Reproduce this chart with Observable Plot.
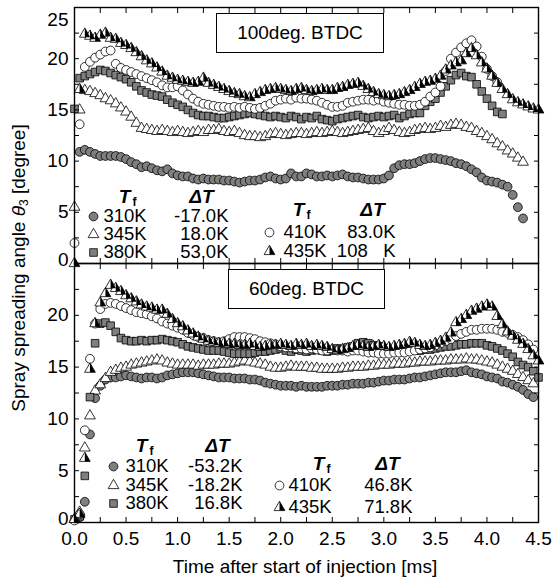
<!DOCTYPE html>
<html><head><meta charset="utf-8">
<script src="https://cdn.jsdelivr.net/npm/d3@7"></script>
<script src="https://cdn.jsdelivr.net/npm/@observablehq/plot@0.6"></script>
<style>
body{margin:0;background:#fff;}
#wrap{position:relative;width:552px;height:579px;font-family:"Liberation Sans",Arial,sans-serif;color:#000;}
#top,#bot{position:absolute;left:0;}
#top{top:0}
#bot{top:263px}
svg{overflow:visible}
.box{position:absolute;border:1.5px solid #000;background:#fff;box-sizing:border-box;display:flex;align-items:center;justify-content:center;font-size:19px;white-space:nowrap;}
.ytitle{position:absolute;left:19px;top:268px;transform:translate(-50%,-50%) rotate(-90deg);white-space:nowrap;font-size:19px;}
.xtitle{position:absolute;left:305px;top:567px;transform:translate(-50%,-50%);white-space:nowrap;font-size:19px;}
sub{font-size:12px;vertical-align:-3px;}
</style></head>
<body><div id="wrap"><div id="top"></div><div id="bot"></div></div>
<script>
// ---------- data ----------
const time = [0.00,0.05,0.10,0.15,0.20,0.25,0.30,0.35,0.40,0.45,
0.50,0.55,0.60,0.65,0.70,0.75,0.80,0.85,0.90,0.95,
1.00,1.05,1.10,1.15,1.20,1.25,1.30,1.35,1.40,1.45,
1.50,1.55,1.60,1.65,1.70,1.75,1.80,1.85,1.90,1.95,
2.00,2.05,2.10,2.15,2.20,2.25,2.30,2.35,2.40,2.45,
2.50,2.55,2.60,2.65,2.70,2.75,2.80,2.85,2.90,2.95,
3.00,3.05,3.10,3.15,3.20,3.25,3.30,3.35,3.40,3.45,
3.50,3.55,3.60,3.65,3.70,3.75,3.80,3.85,3.90,3.95,
4.00,4.05,4.10,4.15,4.20,4.25,4.30,4.35,4.40,4.45,
4.50];

const seriesNames = ["310K","345K","380K","410K","435K"];
const deltaTTop = ["-17.0K","18.0K","53.0K","83.0K","108\u00a0\u00a0\u00a0K"];
const deltaTBot = ["-53.2K","-18.2K","16.8K","46.8K","71.8K"];
const panelTitles = ["100deg. BTDC","60deg. BTDC"];

const top310 = [null,10.9,11.1,10.9,10.7,10.5,10.5,10.5,10.5,10.4,
10.2,9.9,9.7,9.4,9.5,9.3,9.1,9.0,9.2,8.8,
8.6,8.5,8.5,8.3,8.2,8.3,8.2,8.2,8.2,8.1,
8.1,8.0,7.9,8.0,8.1,8.1,8.2,8.4,8.5,8.3,
8.2,8.3,8.8,8.5,8.5,8.8,8.7,8.5,8.5,8.6,
8.5,8.6,8.7,8.5,8.4,8.4,8.3,8.2,8.2,8.2,
8.3,8.6,9.3,9.6,9.7,9.7,9.8,10.0,10.2,10.3,
10.3,10.2,10.1,10.0,9.8,9.7,9.5,9.2,8.9,8.4,
8.1,8.0,7.9,7.7,7.5,6.7,5.5,4.4,null,null,
null];
const top345 = [5.5,15.0,16.9,16.8,16.6,16.4,16.1,15.9,15.6,15.2,
14.8,14.3,13.7,13.2,13.1,13.0,12.9,13.0,12.9,12.8,
12.9,12.8,12.7,12.8,12.9,12.8,13.0,13.0,13.1,12.9,
12.8,12.9,12.7,12.5,12.4,12.4,12.3,12.4,12.6,12.7,
12.6,12.5,12.6,12.7,12.7,12.6,12.7,12.8,12.7,12.8,
12.9,12.8,12.7,12.8,12.9,13.0,13.1,13.2,12.9,12.7,
12.9,13.2,13.0,12.8,12.7,12.8,13.0,13.1,13.2,13.1,
13.2,13.4,13.3,13.5,13.6,13.5,13.3,13.2,12.9,12.7,
12.4,12.1,11.7,11.4,11.0,10.7,10.3,9.9,null,null,
null];
const top380 = [15.1,18.1,18.3,18.5,18.7,18.9,18.8,18.6,18.4,18.2,
18.0,17.7,17.3,16.9,16.7,16.5,16.4,16.3,16.0,15.7,
15.5,15.3,15.0,14.7,14.5,14.4,14.4,14.3,14.2,14.2,
14.3,14.4,14.5,14.6,14.7,14.6,14.5,14.4,14.3,14.4,
14.3,14.2,14.4,14.3,14.1,14.3,14.2,14.4,14.1,14.0,
13.9,14.1,14.2,14.3,14.4,14.5,14.3,14.2,14.3,14.4,
14.3,14.4,14.5,14.2,14.4,14.6,14.7,14.7,15.4,15.8,
16.1,16.7,17.3,17.9,18.4,18.6,18.3,18.2,17.5,16.8,
16.1,15.4,14.8,14.6,null,null,null,null,null,null,
null];
const top410 = [2.0,13.6,19.2,19.7,20.1,20.4,20.7,20.8,19.5,19.1,
18.9,18.7,18.5,18.3,18.1,17.9,17.7,17.4,17.2,17.2,
17.3,16.9,16.5,16.1,15.8,15.6,15.5,15.4,15.3,15.3,
15.2,15.3,15.2,15.3,15.2,15.1,15.2,15.4,15.6,15.9,
16.0,16.1,16.0,16.2,16.1,16.1,16.0,15.9,15.7,15.5,
15.3,15.3,15.4,15.7,15.8,15.9,16.0,16.0,15.9,16.0,
15.8,15.7,15.6,15.5,15.5,15.4,15.4,15.5,15.8,16.3,
16.7,17.3,18.8,20.0,20.6,21.1,21.5,21.8,21.2,20.2,
19.0,18.3,17.7,null,null,null,null,null,null,null,
null];
const top435 = [0.0,17.0,22.4,22.2,22.0,22.3,22.5,22.0,21.9,21.5,
21.3,21.0,20.6,20.2,19.8,19.5,19.1,18.7,18.3,18.1,
17.9,17.8,17.7,17.6,17.7,18.1,17.6,17.4,17.2,17.0,
16.8,16.6,16.5,16.3,16.2,16.5,16.7,16.9,17.0,17.1,
17.0,16.9,16.8,17.0,17.1,16.9,16.8,16.9,17.0,16.9,
16.9,17.1,17.2,17.4,17.5,17.6,17.3,17.0,16.7,16.5,
16.4,16.3,16.4,16.5,16.7,16.9,17.2,17.5,17.7,17.8,
18.0,18.3,18.9,19.3,19.6,19.8,20.5,21.0,20.3,19.6,
19.0,18.3,17.6,17.0,16.5,16.0,15.7,15.5,15.3,15.1,
15.0];

const bot310 = [null,0.5,2.0,8.5,12.0,13.2,13.8,14.0,14.0,14.1,
14.2,14.1,14.0,13.9,14.0,14.0,13.9,14.0,14.2,14.3,
14.4,14.5,14.5,14.5,14.4,14.3,14.2,14.1,14.0,14.0,
14.0,13.9,13.9,13.9,13.8,13.8,13.7,13.5,13.4,13.3,
13.2,13.2,13.2,13.1,13.2,13.1,13.1,13.1,13.1,13.2,
13.2,13.2,13.3,13.3,13.4,13.4,13.4,13.5,13.5,13.6,
13.7,13.7,13.8,13.8,13.8,13.9,14.0,14.0,14.1,14.2,
14.3,14.4,14.5,14.5,14.5,14.6,14.7,14.5,14.4,14.3,
14.1,14.0,13.9,13.6,13.5,13.3,13.1,12.8,12.4,12.1,
null];
const bot345 = [0.3,1.0,7.2,10.3,12.7,13.3,13.9,14.5,14.7,14.9,
15.0,15.2,15.3,15.4,15.5,15.6,15.7,15.6,15.4,15.3,
15.2,15.2,15.2,15.2,15.1,15.2,15.2,15.2,15.3,15.3,
15.3,15.4,15.5,15.6,15.5,15.4,15.3,15.2,15.0,14.9,
14.9,15.0,15.1,15.0,15.0,15.0,14.9,14.9,14.8,14.8,
14.8,14.8,14.9,14.9,15.0,15.0,15.0,15.1,15.1,15.2,
15.2,15.2,15.3,15.3,15.3,15.4,15.4,15.5,15.5,15.5,
15.6,15.6,15.6,15.7,15.7,15.7,15.8,15.7,15.7,15.6,
15.5,15.4,15.2,15.0,14.8,14.6,14.3,14.0,13.7,13.4,
null];
const bot380 = [0.3,0.6,4.5,12.1,17.3,19.2,19.3,19.0,18.4,17.8,
17.6,17.5,17.5,17.6,17.5,17.6,17.6,17.7,17.6,17.5,
17.4,17.2,17.0,16.9,16.8,16.7,16.6,16.6,16.6,16.5,
16.4,16.3,16.3,16.3,16.3,16.4,16.5,16.5,16.6,16.7,
16.8,16.6,16.5,16.7,16.6,16.5,16.6,16.7,16.6,16.5,
16.6,16.8,16.7,16.9,17.0,17.3,17.4,17.3,17.1,17.0,
16.8,16.7,16.6,16.5,16.5,16.6,16.6,16.6,16.7,16.7,
16.8,16.9,17.0,17.0,17.1,17.2,17.2,17.3,17.3,17.3,
17.1,17.0,16.8,16.6,16.3,16.0,15.5,15.2,15.0,14.6,
14.0];
const bot410 = [0.2,0.8,8.9,15.8,19.2,20.6,21.1,21.2,21.1,20.9,
20.7,20.5,20.3,20.2,20.1,19.9,19.7,19.4,19.2,19.0,
18.8,18.6,18.3,18.1,17.9,17.8,17.6,17.5,17.4,17.5,
17.7,17.9,17.9,17.9,17.8,17.7,17.5,17.4,17.3,17.2,
17.0,16.9,16.9,16.8,16.8,16.7,16.8,16.7,16.6,16.6,
16.7,16.6,16.6,16.5,16.6,16.6,16.5,16.4,16.4,16.3,
16.3,16.3,16.4,16.4,16.4,16.5,16.6,16.7,16.8,16.9,
17.1,17.3,17.5,17.7,18.0,18.2,18.4,18.6,18.6,18.7,
18.7,18.7,18.6,18.4,18.3,18.1,17.9,17.6,17.2,16.7,
null];
const bot435 = [0.3,0.8,6.2,14.8,19.2,21.2,22.1,22.9,22.6,22.3,
21.9,21.6,21.3,21.0,20.8,20.7,20.5,20.5,20.1,19.6,
19.2,18.9,18.5,18.2,17.9,17.7,17.5,17.4,17.3,17.3,
17.2,17.2,17.1,17.1,17.2,17.0,16.9,17.0,17.1,17.1,
17.2,17.1,17.0,17.2,17.1,17.2,17.0,17.1,17.0,16.9,
16.7,16.6,16.7,16.8,17.0,17.1,17.0,16.9,17.0,17.1,
17.0,16.9,17.0,17.1,17.2,17.4,17.3,17.1,17.0,17.1,
17.3,17.5,17.8,18.3,19.3,19.6,20.0,20.4,20.6,20.8,
21.0,20.8,19.9,19.1,18.4,18.0,17.6,17.2,16.7,16.1,
15.6];

const xTickLabels = [0.0,0.5,1.0,1.5,2.0,2.5,3.0,3.5,4.0,4.5];
const xMinorTicks = [0,0.25,0.5,0.75,1,1.25,1.5,1.75,2,2.25,2.5,2.75,3,3.25,3.5,3.75,4,4.25,4.5];
const yTickLabels = [0,5,10,15,20,25];
const yMinorTicks = [0,2.5,5,7.5,10,12.5,15,17.5,20,22.5,25];

// ---------- styling ----------
const FONT = "Liberation Sans, Arial, sans-serif";
const GRAY = "#7f7f7f";
const halfTriangle = {draw(ctx, size){const s3=Math.sqrt(3);const y=-Math.sqrt(size/(s3*3));ctx.moveTo(0,2*y);ctx.lineTo(-s3*y,-y);ctx.lineTo(0,-y);ctx.closePath();}};
const markerStyle = {
  "310K": {symbol:"circle", r:4.4, fill:GRAY},
  "345K": {symbol:"triangle", r:4.0, fill:"white"},
  "380K": {symbol:"square", r:4.3, fill:GRAY},
  "410K": {symbol:"circle", r:4.4, fill:"white"},
  "435K": {symbol:"triangle", r:4.0, fill:"white", half:true}
};

function rowsOf(values){
  const out=[];
  values.forEach((v,i)=>{ if(v!==null) out.push({t:time[i], v}); });
  return out;
}
function dotMarks(data, name, extra){
  const st = markerStyle[name];
  const m = [Plot.dot(data, {symbol:st.symbol, r:st.r, fill:st.fill, stroke:"black", strokeWidth:0.8, ...extra})];
  if (st.half) m.push(Plot.dot(data, {symbol:halfTriangle, r:st.r, fill:"black", stroke:"none", ...extra}));
  return m;
}

// legend layout (pixel offsets from the frame's top-left corner)
const legendLayout = {
  top: [
    {T:50, ty:189, dT:127, mx:19, nx:29, vx:154, rows:[209,227,245], idx:[0,1,2]},
    {T:224, ty:202, dT:298, mx:195, nx:209, vx:321, rows:[225,244], idx:[3,4]}
  ],
  bot: [
    {T:67, ty:182, dT:143, mx:39, nx:51, vx:168, rows:[203,222,240], idx:[0,1,2]},
    {T:244, ty:200, dT:313, mx:205, nx:214, vx:338, rows:[222,244], idx:[3,4]}
  ]
};

function legendMarks(layout, deltas){
  const m=[];
  const common = {text:d=>d, frameAnchor:"top-left", lineAnchor:"middle"};
  for (const g of layout){
    m.push(Plot.text(["T"], {...common, dx:g.T, dy:g.ty, fontSize:19, fontStyle:"italic", fontWeight:"bold", textAnchor:"middle"}));
    m.push(Plot.text(["f"], {...common, dx:g.T+10, dy:g.ty+6, fontSize:12, fontWeight:"bold", textAnchor:"middle"}));
    m.push(Plot.text(["\u0394T"], {...common, dx:g.dT, dy:g.ty, fontSize:19, fontStyle:"italic", fontWeight:"bold", textAnchor:"middle"}));
    g.idx.forEach((k,j)=>{
      const dy = g.rows[j];
      m.push(...dotMarks([seriesNames[k]], seriesNames[k], {frameAnchor:"top-left", dx:g.mx, dy}));
      m.push(Plot.text([seriesNames[k]], {...common, dx:g.nx, dy, fontSize:18.5, textAnchor:"start"}));
      m.push(Plot.text([deltas[k]], {...common, dx:g.vx, dy, fontSize:18.5, textAnchor:"end"}));
    });
  }
  return m;
}

function axesMarks(isBottom){
  const t = {tickSize:-5, fill:"none", label:null, strokeWidth:1};
  const lab = {tickSize:0, tickPadding:6, fontSize:19, label:null, anchor:"left"};
  const m = [
    Plot.axisX(xMinorTicks, {anchor:"bottom", ...t}),
    Plot.axisX(xMinorTicks, {anchor:"top", ...t}),
    Plot.axisY(yMinorTicks, {anchor:"left", ...t}),
    Plot.axisY(yMinorTicks, {anchor:"right", ...t}),
    Plot.axisY(yTickLabels.filter(v=>v>0 && v<25), lab),
    Plot.axisY(yTickLabels.filter(v=>v===0), {...lab, dy:-4})
  ];
  if (!isBottom) m.push(Plot.axisY(yTickLabels.filter(v=>v===25), {...lab, dy:12}));
  if (isBottom) m.push(Plot.axisX(xTickLabels, {anchor:"bottom", tickSize:0, tickPadding:9, fontSize:19, label:null, tickFormat:d=>d.toFixed(1)}));
  return m;
}

function panel(series, deltas, layout, isBottom){
  const marks = [];
  series.forEach((vals,k)=> marks.push(...dotMarks(rowsOf(vals), seriesNames[k], {x:"t", y:"v"})));
  marks.push(Plot.frame({stroke:"black", strokeWidth:1.4}));
  marks.push(...axesMarks(isBottom));
  marks.push(...legendMarks(layout, deltas));
  return Plot.plot({
    width:552,
    height: isBottom ? 316 : 263,
    marginLeft:74, marginRight:14,
    marginTop: isBottom ? 0 : 7,
    marginBottom: isBottom ? 57 : 0,
    x:{domain:[0,4.5]},
    y:{domain:[0,25]},
    style:{fontFamily:FONT, fontSize:"19px", overflow:"visible", background:"transparent", color:"black"},
    marks
  });
}

document.getElementById("top").appendChild(panel([top310,top345,top380,top410,top435], deltaTTop, legendLayout.top, false));
document.getElementById("bot").appendChild(panel([bot310,bot345,bot380,bot410,bot435], deltaTBot, legendLayout.bot, true));

const wrap = document.getElementById("wrap");
function addBox(text, left, top, w, h){
  const d=document.createElement("div"); d.className="box"; d.textContent=text;
  Object.assign(d.style,{left:left+"px",top:top+"px",width:w+"px",height:h+"px"});
  wrap.appendChild(d);
}
addBox(panelTitles[0], 216, 13, 168, 40);
addBox(panelTitles[1], 228, 269, 157, 40);
const yt=document.createElement("div"); yt.className="ytitle";
yt.innerHTML='Spray spreading angle <i>\u03b8</i><sub>3</sub> [degree]'; wrap.appendChild(yt);
const xt=document.createElement("div"); xt.className="xtitle";
xt.textContent='Time after start of injection [ms]'; wrap.appendChild(xt);
</script></body></html>
